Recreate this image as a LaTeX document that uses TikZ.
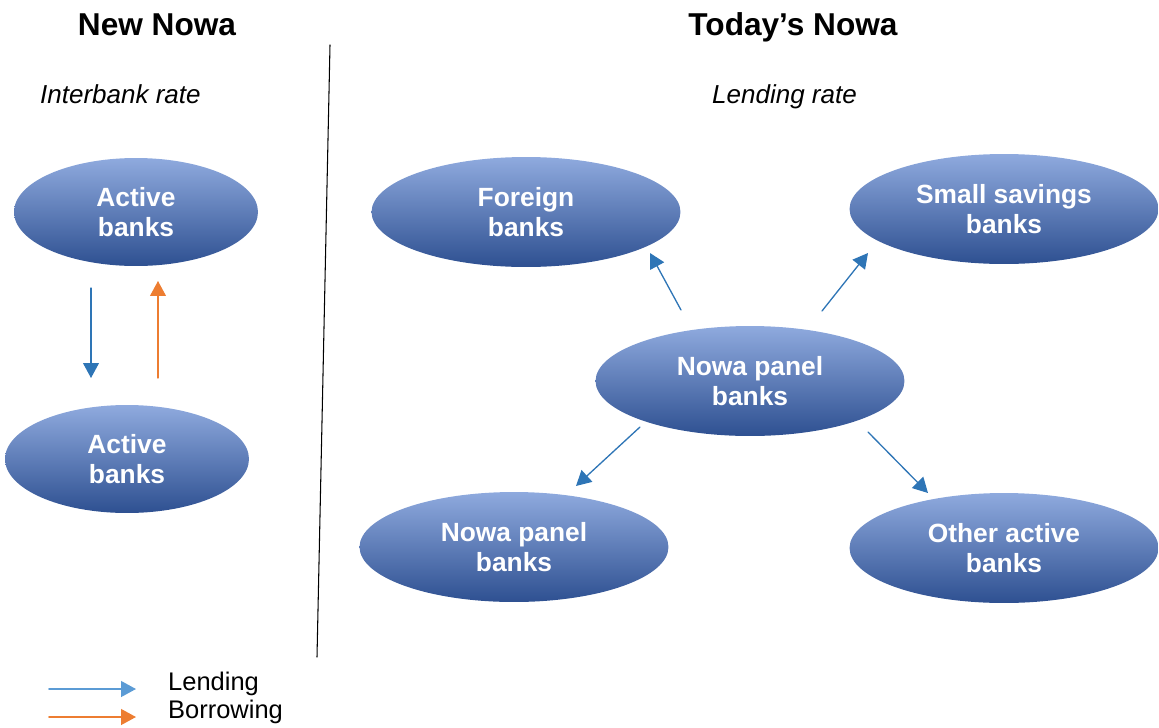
\documentclass[tikz,border=0pt]{standalone}
\usepackage{fontspec}
\setmainfont{Liberation Sans}
\usetikzlibrary{arrows.meta,shapes.geometric}

\definecolor{ellTop}{RGB}{143,170,222}
\definecolor{ellMid}{RGB}{66,112,200}
\definecolor{ellBot}{RGB}{46,80,145}
\definecolor{lendBlue}{RGB}{46,117,182}
\definecolor{keyBlue}{RGB}{91,155,213}
\definecolor{borrowOrange}{RGB}{237,125,49}

\tikzset{
  bank/.style={ellipse, inner sep=0pt, minimum width=4.88cm, minimum height=2.16cm,
    top color=ellTop, middle color=ellMid, bottom color=ellBot,
    text=white, align=center, font=\bfseries\fontsize{15}{17.5}\selectfont},
  widebank/.style={bank, minimum width=6.18cm, minimum height=2.2cm},
  lend/.style={->, draw=lendBlue, line width=0.75pt},
  borrow/.style={->, draw=borrowOrange, line width=0.75pt},
}

\begin{document}
\begin{tikzpicture}[line cap=round,line join=round,>={Triangle[length=8.5pt,width=9pt]},x=0.02cm,y=-0.02cm]
\useasboundingbox (0,0) rectangle (1159,727);
%titles
\node[font=\bfseries\fontsize{18}{21}\selectfont, anchor=base] (tnew) at (157,35) {New Nowa};
\node[font=\bfseries\fontsize{18}{21}\selectfont, anchor=base] (ttoday) at (793,35) {Today’s Nowa};
\node[font=\itshape\fontsize{14.8}{17}\selectfont, anchor=base west] (rinter) at (34,103) {Interbank rate};
\node[font=\itshape\fontsize{14.8}{17}\selectfont, anchor=base west] (rlend) at (706,103) {Lending rate};
%divider
\coordinate (dtop) at (330,45);
\coordinate (dbot) at (317,657);
\draw [line width=0.6pt] (dtop)-- (dbot);

%left side
\node[bank] (act1) at (136,212) {Active\\banks};
\node[bank] (act2) at (127,459) {Active\\banks};
\coordinate (l1) at (91,288);
\coordinate (l2) at (91,378);
\coordinate (b1) at (158,378);
\coordinate (b2) at (158,281);
\draw [lend] (l1)-- (l2);
\draw [borrow] (b1)-- (b2);

%right side
\node[widebank] (foreign) at (526,212) {Foreign\\banks};
\node[widebank] (savings) at (1004,209) {Small savings\\banks};
\node[widebank] (panel) at (750,381) {Nowa panel\\banks};
\node[widebank] (panel2) at (514,547) {Nowa panel\\banks};
\node[widebank] (other) at (1004,548) {Other active\\banks};
\coordinate (pf) at (681,310);
\coordinate (fp) at (650,253);
\coordinate (ps) at (822,311);
\coordinate (sp) at (868,253);
\coordinate (pp) at (640,427);
\coordinate (pq) at (576,486);
\coordinate (po) at (868,432);
\coordinate (op) at (928,493);
\draw [lend] (pf)-- (fp);
\draw [lend] (ps)-- (sp);
\draw [lend] (pp)-- (pq);
\draw [lend] (po)-- (op);

%key
\coordinate (k1) at (49,689);
\coordinate (k2) at (136,689);
\coordinate (k3) at (49,717);
\coordinate (k4) at (136,717);
\draw [->, draw=keyBlue, line width=0.9pt] (k1)-- (k2);
\draw [->, draw=borrowOrange, line width=0.9pt] (k3)-- (k4);
\node[font=\fontsize{14.5}{17}\selectfont, anchor=base west] (klend) at (162,690) {Lending};
\node[font=\fontsize{14.5}{17}\selectfont, anchor=base west] (kborrow) at (162,718) {Borrowing};
\end{tikzpicture}
\end{document}
